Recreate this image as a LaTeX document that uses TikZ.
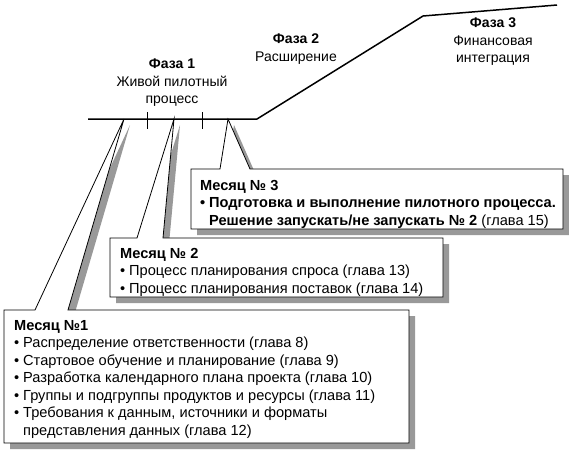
\documentclass[tikz,border=0pt]{standalone}
\usepackage{fontspec}
\setmainfont{Liberation Sans}
\usetikzlibrary{shadows}
\begin{document}
\begin{tikzpicture}[x=1pt,y=-1pt,
  bubble/.style={draw=black, line width=0.8pt, fill=white, line join=miter,
    drop shadow={shadow xshift=6pt, shadow yshift=-6pt, fill=black!40, opacity=1}},
  txt/.style={anchor=north west, inner sep=0pt, align=left, font=\fontsize{14.6}{17.5}\selectfont},
  phase/.style={anchor=north, inner sep=0pt, align=center, font=\fontsize{14}{17.5}\selectfont},
  timeline/.style={line width=1.5pt, line join=miter},
  tickmark/.style={line width=1pt}]
\useasboundingbox (0,0) rectangle (569,451);

% timeline coordinates
\coordinate (t0) at (88,119);
\coordinate (t1) at (257,119);
\coordinate (t2) at (423,16);
\coordinate (t3) at (557,5);
\coordinate (p1) at (124,119);
\coordinate (p2) at (174,119);
\coordinate (p3) at (228,119);

% bubble 1
\path[bubble] (35,310) -- (4,310) -- (4,443) -- (409,443) -- (409,310) -- (68,310) -- (p1) -- cycle;
% bubble 2
\path[bubble] (137,238) -- (110,238) -- (110,297) -- (443,297) -- (443,238) -- (163,238) -- (p2) -- cycle;
% bubble 3
\path[bubble] (220,169) -- (191,169) -- (191,229) -- (563,229) -- (563,169) -- (250,169) -- (p3) -- cycle;

% timeline
\draw[timeline] (t0) -- (t1) -- (t2) -- (t3);
\draw[tickmark] (147,112) -- (147,129);
\draw[tickmark] (202,112) -- (202,129);

% phase labels
\node[phase] (f1) at (172,59) {\textbf{Фаза 1}\\Живой пилотный\\процесс};
\node[phase] (f2) at (296,34) {\textbf{Фаза 2}\\Расширение};
\node[phase] (f3) at (493,18) {\textbf{Фаза 3}\\Финансовая\\интеграция};

% box texts
\node[txt] (m3) at (200,180) {\textbf{Месяц № 3}\\
\textbf{\makebox[9pt][l]{•}Подготовка и выполнение пилотного процесса.}\\
\hspace*{9pt}\textbf{Решение запускать/не запускать № 2} (глава 15)};

\node[txt] (m2) at (120,248) {\textbf{Месяц № 2}\\
\makebox[9pt][l]{•}Процесс планирования спроса (глава 13)\\
\makebox[9pt][l]{•}Процесс планирования поставок (глава 14)};

\node[txt] (m1) at (14,320) {\textbf{Месяц №1}\\
\makebox[9pt][l]{•}Распределение ответственности (глава 8)\\
\makebox[9pt][l]{•}Стартовое обучение и планирование (глава 9)\\
\makebox[9pt][l]{•}Разработка календарного плана проекта (глава 10)\\
\makebox[9pt][l]{•}Группы и подгруппы продуктов и ресурсы (глава 11)\\
\makebox[9pt][l]{•}Требования к данным, источники и форматы\\
\hspace*{9pt}представления данных (глава 12)};
\end{tikzpicture}
\end{document}
